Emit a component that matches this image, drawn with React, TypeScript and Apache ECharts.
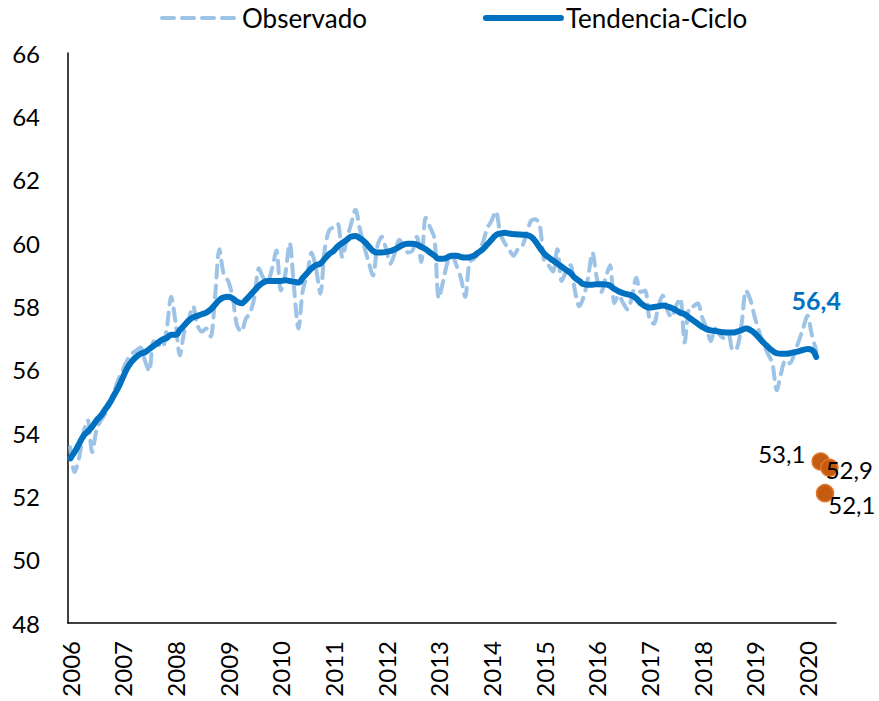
import React, { useEffect, useRef } from "react";
import * as echarts from "echarts";

const YEARS = [2006, 2007, 2008, 2009, 2010, 2011, 2012, 2013, 2014, 2015, 2016, 2017, 2018, 2019, 2020];
const MONTHS = ["01", "02", "03", "04", "05", "06", "07", "08", "09", "10", "11", "12"];
const LAST_YEAR_MONTHS = 7; // axis runs to Jul 2020

// Tendencia-Ciclo, monthly from Jan 2006 to Mar 2020
const TREND = [
  53.2, 53.4, 53.65, 53.9, 54.05, 54.2, 54.4, 54.55, 54.75, 54.95, 55.2, 55.45,
  55.75, 56.05, 56.25, 56.4, 56.5, 56.55, 56.65, 56.75, 56.85, 56.95, 57.0, 57.1,
  57.1, 57.25, 57.4, 57.55, 57.65, 57.7, 57.75, 57.8, 57.9, 58.05, 58.2, 58.28,
  58.3, 58.25, 58.15, 58.1, 58.2, 58.35, 58.5, 58.65, 58.75, 58.8, 58.8, 58.8,
  58.8, 58.82, 58.8, 58.78, 58.75, 58.9, 59.05, 59.2, 59.3, 59.35, 59.5, 59.65,
  59.75, 59.9, 60.0, 60.1, 60.2, 60.22, 60.15, 60.05, 59.9, 59.75, 59.7, 59.7,
  59.72, 59.75, 59.8, 59.88, 59.95, 59.98, 59.98, 59.95, 59.88, 59.8, 59.7, 59.6,
  59.5, 59.5, 59.55, 59.6, 59.6, 59.56, 59.54, 59.55, 59.6, 59.7, 59.8, 59.95,
  60.1, 60.25, 60.3, 60.32, 60.3, 60.28, 60.27, 60.26, 60.25, 60.2, 60.05, 59.85,
  59.67, 59.55, 59.45, 59.35, 59.25, 59.15, 59.05, 58.9, 58.8, 58.7, 58.68, 58.68,
  58.7, 58.7, 58.69, 58.65, 58.55, 58.47, 58.42, 58.38, 58.34, 58.25, 58.1, 58.0,
  57.96, 57.98, 58.0, 58.03, 58.0, 57.95, 57.88, 57.8, 57.75, 57.65, 57.55, 57.45,
  57.35, 57.28, 57.24, 57.22, 57.2, 57.18, 57.17, 57.17, 57.2, 57.25, 57.3, 57.25,
  57.15, 57.0, 56.85, 56.72, 56.6, 56.52, 56.5, 56.5, 56.52, 56.55, 56.58, 56.62,
  56.65, 56.62, 56.4,
];

// Observado, monthly from Jan 2006 to Mar 2020
const OBSERVED = [
  53.55, 52.76, 53.2, 54.0, 54.4, 53.4, 54.1, 54.4, 54.6, 54.9, 55.3, 55.7,
  56.0, 56.3, 56.5, 56.6, 56.7, 56.3, 55.95, 56.9, 56.8, 56.7, 57.3, 58.3,
  57.5, 56.45, 57.2, 57.6, 58.0, 57.4, 57.2, 57.3, 57.05, 58.3, 59.8, 59.0,
  58.8, 58.3, 57.4, 57.2, 57.6, 57.8, 58.3, 59.2, 58.9, 58.8, 59.2, 59.76,
  58.5, 59.0, 60.0, 58.6, 57.3, 58.5, 59.0, 59.7, 59.2, 58.4, 59.8, 60.4,
  60.5, 60.6, 59.55, 60.1, 60.6, 61.05, 60.45, 59.9, 59.4, 58.97, 59.9, 60.2,
  59.8, 59.35, 59.7, 60.1, 59.9, 59.7, 59.76, 60.2, 59.4, 60.8, 60.5, 60.15,
  58.25, 58.8, 59.4, 59.6, 59.3, 58.9, 58.3, 59.4, 59.5, 59.7, 60.0, 60.45,
  60.7, 61.0, 60.3, 60.0, 59.8, 59.6, 59.8, 59.9, 60.3, 60.7, 60.75, 60.55,
  59.45, 59.3, 59.1, 59.8, 58.8, 59.1, 59.3, 58.5, 58.0, 58.3, 58.9, 59.7,
  58.9, 58.45, 58.9, 59.3, 58.1, 58.35, 58.1, 57.9, 58.3, 58.9, 58.45, 58.5,
  57.6, 57.45, 58.0, 58.34, 57.9, 57.65, 58.0, 58.25, 56.86, 57.95, 58.0, 58.1,
  57.65, 57.3, 56.9, 57.3, 57.1, 57.0, 57.1, 56.6, 56.7, 57.45, 58.5, 58.2,
  57.65, 57.2, 56.8, 56.5, 56.2, 55.35, 55.9, 56.3, 56.2, 56.5, 56.9, 57.3,
  57.7, 57.1, 56.6,
];

// Separate 2020 points (Apr, May, Jun 2020)
const EXTRA_IDX = [171, 172, 173];
const EXTRA_VALUES = [53.1, 52.1, 52.9];
const EXTRA_LABELS = ["53,1", "52,1", "52,9"];
const TREND_LAST_LABEL = "56,4";

const Y_MIN = 48;
const Y_MAX = 66;
const Y_STEP = 2;

const CATEGORIES: string[] = [];
YEARS.forEach((y, yi) => {
  const n = yi === YEARS.length - 1 ? LAST_YEAR_MONTHS : 12;
  for (let i = 0; i < n; i++) CATEGORIES.push(`${y}-${MONTHS[i]}`);
});

const FONT = "Lato, 'Open Sans', sans-serif";
const OBS_COLOR = "#9DC3E6";
const TREND_COLOR = "#0070C0";

export default function App() {
  const ref = useRef<HTMLDivElement>(null);
  useEffect(() => {
    if (!ref.current) return;
    const chart = echarts.init(ref.current, null, { renderer: "svg" });

    const lastIdx = TREND.length - 1;

    const labelCfgs: any[] = [
      { position: "left", distance: 6, offset: [0, -8] },
      { position: "right", distance: -6, offset: [0, 11] },
      { position: "right", distance: -13, offset: [0, 2] },
    ];
    const extraData = EXTRA_IDX.map((idx, k) => ({
      value: [idx, EXTRA_VALUES[k]],
      label: {
        show: true,
        formatter: EXTRA_LABELS[k],
        color: "#000",
        fontSize: 24,
        fontFamily: FONT,
        ...labelCfgs[k],
      },
    }));

    chart.setOption({
      animation: false,
      textStyle: { fontFamily: FONT },
      grid: { left: 68, right: 43, top: 53, bottom: 78, containLabel: false },
      legend: {
        top: 0,
        left: 155,
        itemWidth: 75,
        itemHeight: 14,
        itemGap: 116,
        itemStyle: { opacity: 0 },
        textStyle: { fontSize: 26, color: "#000", fontFamily: FONT },
        data: [
          {
            name: "Observado",
            lineStyle: { width: 4, type: [12, 8], color: OBS_COLOR, cap: "round" },
          },
          {
            name: "Tendencia-Ciclo",
            lineStyle: { width: 6, color: TREND_COLOR, cap: "round" },
          },
        ],
      },
      xAxis: {
        type: "category",
        data: CATEGORIES,
        boundaryGap: true,
        axisLine: { show: true, lineStyle: { color: "#000", width: 1.5 } },
        axisTick: { show: false },
        splitLine: { show: false },
        axisLabel: {
          rotate: 90,
          interval: (i: number) => i % 12 === 0,
          formatter: (v: string) => v.slice(0, 4),
          fontSize: 24,
          color: "#000",
          margin: 18,
          fontFamily: FONT,
        },
      },
      yAxis: {
        type: "value",
        min: Y_MIN,
        max: Y_MAX,
        interval: Y_STEP,
        axisLine: { show: true, lineStyle: { color: "#000", width: 1.5 } },
        axisTick: { show: false },
        splitLine: { show: false },
        axisLabel: { fontSize: 24, color: "#000", margin: 28, fontFamily: FONT },
      },
      series: [
        {
          name: "Observado",
          type: "line",
          data: OBSERVED,
          symbol: "none",
          smooth: 0.3,
          lineStyle: { color: OBS_COLOR, width: 4, type: [12, 8], cap: "round" },
          itemStyle: { color: OBS_COLOR },
          z: 2,
        },
        {
          name: "Tendencia-Ciclo",
          type: "line",
          data: TREND,
          symbol: "none",
          smooth: true,
          lineStyle: { color: TREND_COLOR, width: 6, cap: "round" },
          itemStyle: { color: TREND_COLOR },
          z: 3,
        },
        {
          name: "TrendLabel",
          type: "scatter",
          data: [
            {
              value: [lastIdx, TREND[lastIdx]],
              label: {
                show: true,
                formatter: TREND_LAST_LABEL,
                position: "top",
                distance: 44,
                fontWeight: 700,
                color: TREND_COLOR,
                opacity: 1,
                fontSize: 25,
                fontFamily: FONT,
              },
            },
          ],
          symbolSize: 1,
          itemStyle: { color: "rgba(255,255,255,0)", opacity: 1 },
          emphasis: { disabled: true },
          z: 5,
        },
        {
          name: "Extra",
          type: "scatter",
          data: extraData,
          symbolSize: 17,
          itemStyle: { color: "#C55A11", borderColor: "#E0782E", borderWidth: 1.5, opacity: 1 },
          z: 4,
        },
      ],
    });
    return () => chart.dispose();
  }, []);

  return (
    <div
      ref={ref}
      style={{ position: "fixed", left: 0, top: 0, width: 879, height: 701, background: "#fff" }}
    />
  );
}
